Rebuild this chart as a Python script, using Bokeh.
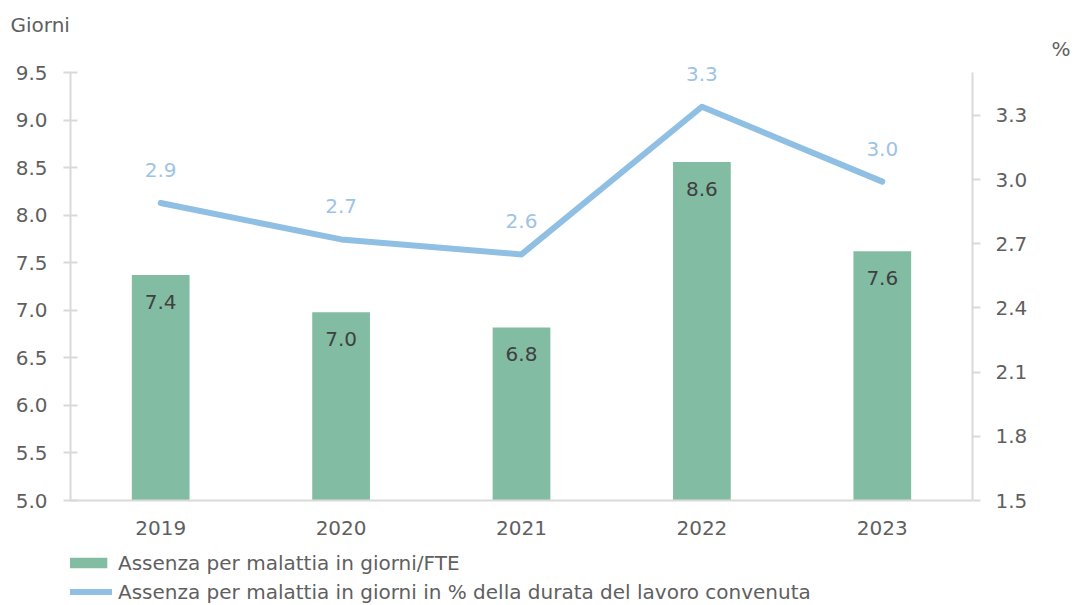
from bokeh.plotting import figure
from bokeh.layouts import column
from bokeh.models import (FactorRange, Range1d, LinearAxis, Legend, LegendItem, Title,
                          ColumnDataSource, FixedTicker, LabelSet, CustomJSTickFormatter)
from bokeh.core.properties import value
from bokeh.embed import file_html
from bokeh.resources import INLINE

years = ["2019", "2020", "2021", "2022", "2023"]
giorni_fte = [7.37, 6.98, 6.82, 8.56, 7.62]
giorni_pct = [2.89, 2.72, 2.65, 3.34, 2.99]
left_ticks = [5.0, 5.5, 6.0, 6.5, 7.0, 7.5, 8.0, 8.5, 9.0, 9.5]
right_ticks = [1.5, 1.8, 2.1, 2.4, 2.7, 3.0, 3.3]
series_names = ["Assenza per malattia in giorni/FTE",
                "Assenza per malattia in giorni in % della durata del lavoro convenuta"]

FONT = "DejaVu Sans"
FS = "20px"
GREEN = "#82BDA3"
BLUE = "#8FBFE3"
GRAY_TXT = "#5F5F5F"
AXIS_GRAY = "#D9D9D9"

src = ColumnDataSource(dict(
    x=years, bar=giorni_fte, pct=giorni_pct,
    bar_lbl=[f"{v:.1f}" for v in giorni_fte],
    pct_lbl=[f"{v:.1f}" for v in giorni_pct],
))

# frame extends 14px above the 9.5 / 3.5 level so the top data label is not clipped
p = figure(x_range=FactorRange(*years, range_padding=0), y_range=Range1d(5.0, 9.5 + 14 / 95.11),
           width=1072, height=546, output_backend="svg", toolbar_location=None,
           title=None,
           min_border_left=70, min_border_right=100, min_border_top=58, min_border_bottom=46)
p.outline_line_color = None
p.xgrid.grid_line_color = None
p.ygrid.grid_line_color = None
p.background_fill_color = "white"
p.border_fill_color = "white"

p.extra_y_ranges = {"pct": Range1d(1.5, 3.5 + 14 / 214.0)}

bars = p.vbar(x="x", top="bar", bottom=5.0, width=0.32, source=src, fill_color=GREEN, line_color=None)
line = p.line(x="x", y="pct", source=src, y_range_name="pct", line_color=BLUE, line_width=6,
              line_join="round", line_cap="round")

# Axes styling
yl = p.yaxis[0]
yl.ticker = FixedTicker(ticks=left_ticks)
yl.bounds = (5.0, 9.5)
yl.formatter = CustomJSTickFormatter(code="return tick.toFixed(1)")
yl.axis_line_color = AXIS_GRAY
yl.axis_line_width = 2
yl.major_tick_line_color = AXIS_GRAY
yl.major_tick_line_width = 2
yl.major_tick_in = 7
yl.major_tick_out = 7
yl.minor_tick_line_color = None
yl.major_label_text_font = FONT
yl.major_label_text_font_size = FS
yl.major_label_text_color = GRAY_TXT
yl.major_label_standoff = 16

yr = LinearAxis(y_range_name="pct", ticker=FixedTicker(ticks=right_ticks), bounds=(1.5, 3.5))
yr.formatter = CustomJSTickFormatter(code="return tick.toFixed(1)")
yr.axis_line_color = AXIS_GRAY
yr.axis_line_width = 2
yr.major_tick_line_color = AXIS_GRAY
yr.major_tick_line_width = 2
yr.major_tick_in = 0
yr.major_tick_out = 8
yr.minor_tick_line_color = None
yr.major_label_text_font = FONT
yr.major_label_text_font_size = FS
yr.major_label_text_color = GRAY_TXT
yr.major_label_standoff = 15
p.add_layout(yr, "right")

xa = p.xaxis[0]
xa.axis_line_color = AXIS_GRAY
xa.axis_line_width = 2
xa.major_tick_line_color = None
xa.minor_tick_line_color = None
xa.major_label_text_font = FONT
xa.major_label_text_font_size = FS
xa.major_label_text_color = GRAY_TXT
xa.major_label_standoff = 14

# Data labels
p.add_layout(LabelSet(x="x", y="bar", text="bar_lbl", source=src, y_offset=-27,
                      text_align="center", text_baseline="middle", text_font=value(FONT),
                      text_font_size=FS, text_color="#404040"))
p.add_layout(LabelSet(x="x", y="pct", text="pct_lbl", source=src, y_range_name="pct", y_offset=33,
                      text_align="center", text_baseline="middle", text_font=value(FONT),
                      text_font_size=FS, text_color="#9DC3E6"))

# Unit labels as titles
t_pct = Title(text="%", align="right", offset=-98, text_font=FONT, text_font_size=FS,
              text_color=GRAY_TXT, text_font_style="normal", standoff=-4)
t_giorni = Title(text="Giorni", align="left", offset=-60, text_font=FONT, text_font_size=FS,
                 text_color=GRAY_TXT, text_font_style="normal", standoff=0)
p.add_layout(t_pct, "above")
p.add_layout(t_giorni, "above")

# Legend strip below the chart; its renderers use the same data but lie outside its view
lg = figure(width=1072, height=59, x_range=FactorRange(*years), y_range=Range1d(100, 101),
            output_backend="svg", toolbar_location=None, title=None, min_border=0,
            x_axis_location=None, y_axis_location=None)
lg.grid.visible = False
lg.outline_line_color = None
lg.background_fill_color = "white"
lg.border_fill_color = "white"
lg_bar = lg.vbar(x="x", top="bar", width=0.32, source=src, fill_color=GREEN, line_color=None)
lg_line = lg.line(x="x", y="pct", source=src, line_color=BLUE, line_width=6, line_cap="round")

legend = Legend(items=[
    LegendItem(label=series_names[0], renderers=[lg_bar]),
    LegendItem(label=series_names[1], renderers=[lg_line]),
], location=(-10, 0), orientation="vertical")
legend.label_text_font = FONT
legend.label_text_font_size = FS
legend.label_text_line_height = 1.0
legend.label_text_color = GRAY_TXT
legend.glyph_width = 52
legend.glyph_height = 13
legend.label_standoff = 6
legend.spacing = 2
legend.padding = 0
legend.margin = 0
legend.border_line_color = None
legend.background_fill_alpha = 0
legend.label_height = 27
lg.add_layout(legend, "center")

open("out.html", "w").write(file_html(column(p, lg), INLINE))
